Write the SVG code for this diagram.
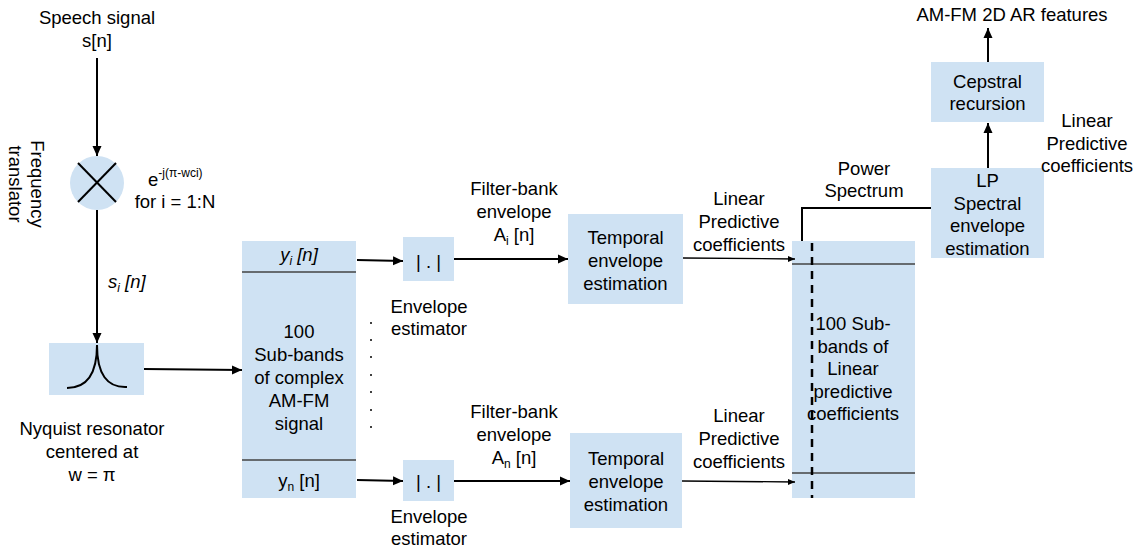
<svg xmlns="http://www.w3.org/2000/svg" width="1144" height="549" viewBox="0 0 1144 549">
<style>
text{font-family:"Liberation Sans",Arial,sans-serif;font-size:18.5px;fill:#000}
.m{text-anchor:middle}
.it{font-style:italic}
.box{fill:#cfe2f3;stroke:none}
.ln{fill:none;stroke:#000;stroke-width:2}
.thin{fill:none;stroke:#000;stroke-width:1.3}
.div{stroke:#434343;stroke-width:1.5}
.sub{font-size:12px}
</style>
<defs>
<marker id="ah" markerUnits="userSpaceOnUse" markerWidth="11" markerHeight="10" refX="10" refY="5" orient="auto"><path d="M0,0.5 L10,5 L0,9.5 Z" fill="#000"/></marker>
<marker id="ahs" markerUnits="userSpaceOnUse" markerWidth="8" markerHeight="7" refX="7" refY="3.5" orient="auto"><path d="M0,0.5 L7,3.5 L0,6.5 Z" fill="#000"/></marker>
</defs>

<g id="input-label">
<text class="m" x="97" y="24">Speech signal</text>
<text class="m" x="97" y="47">s[n]</text>
</g>

<g id="frequency-translator">
<circle cx="97" cy="183" r="27" class="box"/>
<line x1="78" y1="163" x2="116" y2="202" class="ln"/>
<line x1="116" y1="163" x2="78" y2="202" class="ln"/>
<text x="148" y="186">e<tspan class="sub" dy="-9">-j(π-wci)</tspan></text>
<text class="m" x="175" y="208">for i = 1:N</text>
<g transform="translate(0,184) rotate(90)">
<text class="m" x="0" y="-31">Frequency</text>
<text class="m" x="0" y="-9">translator</text>
</g>
</g>

<g id="nyquist-resonator">
<rect x="49" y="343" width="95" height="52" class="box"/>
<path d="M97,345 C97,374 87,388 67,388 M97,345 C97,374 107,388 127,387" class="ln"/>
<text class="m" x="92" y="435">Nyquist resonator</text>
<text class="m" x="92" y="458">centered at</text>
<text class="m" x="92" y="481">w = π</text>
</g>

<g id="subbands">
<rect x="242" y="241" width="114" height="257" class="box"/>
<line x1="242" y1="272" x2="356" y2="272" class="div"/>
<line x1="242" y1="460" x2="356" y2="460" class="div"/>
<text class="m it" x="299" y="261">y<tspan class="sub" dy="4">i</tspan><tspan dy="-4"> [n]</tspan></text>
<text class="m" x="299" y="338">100</text>
<text class="m" x="299" y="361">Sub-bands</text>
<text class="m" x="299" y="384">of complex</text>
<text class="m" x="299" y="407">AM-FM</text>
<text class="m" x="299" y="430">signal</text>
<text class="m" x="299" y="487">y<tspan class="sub" dy="4">n</tspan><tspan dy="-4"> [n]</tspan></text>
</g>

<g id="dots" fill="#000">
<circle cx="371" cy="323" r="1"/>
<circle cx="371" cy="340" r="1"/>
<circle cx="371" cy="357" r="1"/>
<circle cx="371" cy="375" r="1"/>
<circle cx="371" cy="392" r="1"/>
<circle cx="371" cy="410" r="1"/>
<circle cx="371" cy="427" r="1"/>
</g>

<g id="envelope-estimator-1">
<rect x="403" y="237" width="51" height="44" class="box"/>
<text class="m" x="428.5" y="268">| . |</text>
<text class="m" x="429" y="313">Envelope</text>
<text class="m" x="429" y="335">estimator</text>
</g>

<g id="envelope-estimator-n">
<rect x="403" y="460" width="51" height="41" class="box"/>
<text class="m" x="428.5" y="488">| . |</text>
<text class="m" x="429" y="523">Envelope</text>
<text class="m" x="429" y="545">estimator</text>
</g>

<g id="temporal-1">
<rect x="568" y="214" width="115" height="90" class="box"/>
<text class="m" x="625.5" y="244">Temporal</text>
<text class="m" x="625.5" y="267">envelope</text>
<text class="m" x="625.5" y="290">estimation</text>
</g>

<g id="temporal-n">
<rect x="570" y="433" width="112" height="95" class="box"/>
<text class="m" x="626" y="465">Temporal</text>
<text class="m" x="626" y="488">envelope</text>
<text class="m" x="626" y="511">estimation</text>
</g>

<g id="lp-subbands">
<rect x="792" y="241" width="123" height="257" class="box"/>
<line x1="792" y1="264" x2="915" y2="264" class="div"/>
<line x1="792" y1="473" x2="915" y2="473" class="div"/>
<text class="m" x="853" y="330">100 Sub-</text>
<text class="m" x="853" y="352.5">bands of</text>
<text class="m" x="853" y="375">Linear</text>
<text class="m" x="853" y="397.5">predictive</text>
<text class="m" x="853" y="420">coefficients</text>
<line x1="812" y1="243" x2="812" y2="498" stroke="#000" stroke-width="2.5" stroke-dasharray="8 6"/>
</g>

<g id="lp-spectral">
<rect x="931" y="168" width="113" height="90" class="box"/>
<text class="m" x="987.5" y="187">LP</text>
<text class="m" x="987.5" y="210">Spectral</text>
<text class="m" x="987.5" y="232">envelope</text>
<text class="m" x="987.5" y="255">estimation</text>
</g>

<g id="cepstral">
<rect x="931" y="62" width="113" height="60" class="box"/>
<text class="m" x="987.5" y="88">Cepstral</text>
<text class="m" x="987.5" y="110">recursion</text>
</g>

<g id="labels">
<text class="m" x="514" y="195">Filter-bank</text>
<text class="m" x="514" y="218">envelope</text>
<text class="m" x="514" y="241">A<tspan class="sub" dy="4">i</tspan><tspan dy="-4"> [n]</tspan></text>
<text class="m" x="514" y="418">Filter-bank</text>
<text class="m" x="514" y="441">envelope</text>
<text class="m" x="514" y="464">A<tspan class="sub" dy="4">n</tspan><tspan dy="-4"> [n]</tspan></text>
<text class="m" x="739" y="205">Linear</text>
<text class="m" x="739" y="228">Predictive</text>
<text class="m" x="739" y="251">coefficients</text>
<text class="m" x="739" y="422">Linear</text>
<text class="m" x="739" y="445">Predictive</text>
<text class="m" x="739" y="468">coefficients</text>
<text class="m" x="864" y="175">Power</text>
<text class="m" x="864" y="197">Spectrum</text>
<text class="m" x="1087" y="127">Linear</text>
<text class="m" x="1087" y="150">Predictive</text>
<text class="m" x="1087" y="172">coefficients</text>
<text class="m" x="1012" y="21">AM-FM 2D AR features</text>
<text class="it" x="108" y="288">s<tspan class="sub" dy="4">i</tspan><tspan dy="-4"> [n]</tspan></text>
</g>

<g id="connectors">
<line x1="97" y1="58" x2="97" y2="156" class="ln" marker-end="url(#ah)"/>
<line x1="97" y1="210" x2="97" y2="343" class="ln" marker-end="url(#ah)"/>
<line x1="144" y1="369" x2="242" y2="370" class="ln" marker-end="url(#ah)"/>
<line x1="357" y1="260" x2="403" y2="261" class="ln" marker-end="url(#ah)"/>
<line x1="357" y1="480" x2="403" y2="481" class="ln" marker-end="url(#ah)"/>
<line x1="454" y1="259" x2="568" y2="259" class="ln" marker-end="url(#ah)"/>
<line x1="454" y1="481" x2="570" y2="481" class="ln" marker-end="url(#ah)"/>
<line x1="683" y1="258" x2="795" y2="259" class="thin" marker-end="url(#ahs)"/>
<line x1="682" y1="481" x2="795" y2="482" class="thin" marker-end="url(#ahs)"/>
<polyline points="802,241 802,208 931,208" class="ln"/>
<line x1="988" y1="168" x2="988" y2="123" class="ln" marker-end="url(#ah)"/>
<line x1="988" y1="62" x2="988" y2="28" class="ln" marker-end="url(#ah)"/>
</g>
</svg>
